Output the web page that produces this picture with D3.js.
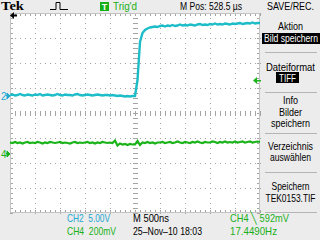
<!DOCTYPE html>
<html><head><meta charset="utf-8">
<script src="https://cdn.jsdelivr.net/npm/d3@7"></script>
<style>
html,body{margin:0;padding:0;background:#ececec;overflow:hidden}
svg{display:block}
</style></head>
<body>
<script>
// ---- data (vertical values in divisions from screen centre, time in divisions) ----
const sampleStep = 0.1;
const ch2Values = [
 0.72,0.74,0.70,0.72,0.76,0.72,0.70,0.74,0.72,0.70,
 0.74,0.72,0.76,0.70,0.72,0.74,0.72,0.70,0.72,0.76,
 0.72,0.70,0.74,0.72,0.72,0.70,0.74,0.76,0.72,0.70,
 0.72,0.74,0.72,0.70,0.72,0.74,0.72,0.70,0.72,0.72,
 0.70,0.72,0.70,0.68,0.70,0.68,0.66,0.68,0.66,0.68,
 0.68,1.32,2.84,3.20,3.32,3.38,3.42,3.44,3.46,3.44,
 3.48,3.50,3.46,3.50,3.48,3.52,3.48,3.50,3.54,3.50,
 3.52,3.50,3.54,3.52,3.50,3.54,3.56,3.52,3.54,3.52,
 3.56,3.54,3.58,3.54,3.56,3.54,3.58,3.56,3.54,3.58,
 3.56,3.58,3.60,3.56,3.58,3.60,3.58,3.62,3.58,3.60,3.60];
const ch4Values = [
 -1.18,-1.20,-1.16,-1.20,-1.18,-1.22,-1.18,-1.16,-1.20,-1.18,
 -1.20,-1.16,-1.18,-1.22,-1.18,-1.20,-1.16,-1.18,-1.20,-1.18,
 -1.16,-1.20,-1.18,-1.20,-1.22,-1.18,-1.16,-1.20,-1.18,-1.20,
 -1.18,-1.16,-1.20,-1.18,-1.22,-1.18,-1.20,-1.16,-1.18,-1.20,
 -1.18,-1.20,-1.10,-1.30,-1.22,-1.26,-1.24,-1.28,-1.24,-1.26,
 -1.26,-1.12,-1.28,-1.18,-1.20,-1.16,-1.20,-1.18,-1.22,-1.18,
 -1.18,-1.16,-1.20,-1.18,-1.16,-1.20,-1.18,-1.14,-1.18,-1.20,
 -1.16,-1.18,-1.20,-1.16,-1.18,-1.14,-1.18,-1.20,-1.16,-1.18,
 -1.18,-1.14,-1.16,-1.20,-1.16,-1.18,-1.14,-1.18,-1.16,-1.18,
 -1.14,-1.18,-1.16,-1.14,-1.18,-1.16,-1.14,-1.18,-1.16,-1.14,-1.16];
const ch2GroundDiv = 0.68;   // "2" marker
const ch4GroundDiv = -1.64;  // "4" marker
const triggerLevelDiv = 1.30; // right-side trigger marker
const menuTitle = "SAVE/REC.";
const menuItems = [
  {lines:["Aktion"], hl:"Bild speichern"},
  {lines:["Dateiformat"], hl:"TIFF"},
  {lines:["Info","Bilder","speichern"]},
  {lines:["Verzeichnis","auswählen"]},
  {lines:["Speichern","TEK0153.TIF"]}
];
const headerTexts = {brand:"Tek", trig:"Trig'd", mpos:"M Pos: 528.5\u00a0\u00b5s"};
const statusRow1 = [{t:"CH2  5.00V", c:"ch2"},{t:"M 500ns", c:"k"},{t:"CH4 \u2572 592mV", c:"ch4"}];
const statusRow2 = [{t:"CH4  200mV", c:"ch4"},{t:"25\u2013Nov\u201310 18:03", c:"k"},{t:"17.4490Hz", c:"ch4"}];

// ---- layout (pixel widths of the narrow instrument font) ----
const textWidth = {
  "Aktion":25,"Bild speichern":54,"Dateiformat":49,"TIFF":17,"Info":15,"Bilder":23,"speichern":39,
  "Verzeichnis":45,"auswählen":41,"Speichern":38,"TEK0153.TIF":50,
  "SAVE/REC.":47,"Trig'd":24
};
textWidth[headerTexts.mpos]=62;
const statusWidth1=[43,36,59], statusWidth2=[49,69,47];

// ---- drawing ----
const W=320,H=240;
const colors = {ch2:"#1cbcc8", ch4:"#1ab41a", k:"#000", grid:"#a4a4a4"};
const textCol = {ch2:"#22a8d0", ch4:"#18b018", k:"#000"};
const font = "'Liberation Sans',Arial,sans-serif";
const svg = d3.select("body").append("svg").attr("width",W).attr("height",H);
svg.append("rect").attr("width",W).attr("height",H).attr("fill","#ececec");

function txt(parent,s,xx,yy,w,col,anchor){
  const t=parent.append("text").attr("x",xx).attr("y",yy).text(s).attr("fill",col)
    .attr("font-family",font).attr("font-size",11).style("white-space","pre");
  if(anchor) t.attr("text-anchor",anchor);
  if(w) t.attr("textLength",w).attr("lengthAdjust","spacingAndGlyphs");
  return t;
}

const x = d3.scaleLinear().domain([0,10]).range([10,260]);
const y = d3.scaleLinear().domain([-4,4]).range([213,13]);

const plot = svg.append("g");
plot.append("rect").attr("x",x(0)).attr("y",y(4)).attr("width",x(10)-x(0)).attr("height",y(-4)-y(4))
  .attr("fill","#fff");

// graticule
const g = plot.append("g").attr("fill",colors.grid).attr("shape-rendering","crispEdges");
const minor = d3.range(0,10.001,0.2), minorY = d3.range(-4,4.001,0.2);
d3.range(1,10).forEach(i=>{
  if(i===5){
    minorY.forEach(v=>g.append("rect").attr("x",x(i)-2).attr("y",Math.round(y(v))).attr("width",5).attr("height",1));
  } else {
    minorY.forEach(v=>g.append("rect").attr("x",x(i)).attr("y",Math.round(y(v))).attr("width",1).attr("height",1));
  }
});
d3.range(-3,4).forEach(j=>{
  if(j===0){
    minor.forEach(t=>g.append("rect").attr("x",Math.round(x(t))).attr("y",y(j)-2).attr("width",1).attr("height",5));
  } else {
    minor.forEach(t=>g.append("rect").attr("x",Math.round(x(t))).attr("y",y(j)).attr("width",1).attr("height",1));
  }
});
// edge ticks
minor.forEach(t=>{
  g.append("rect").attr("x",Math.round(x(t))).attr("y",y(4)).attr("width",1).attr("height",3);
  g.append("rect").attr("x",Math.round(x(t))).attr("y",y(-4)-3).attr("width",1).attr("height",3);
});
minorY.forEach(v=>{
  g.append("rect").attr("x",x(0)).attr("y",Math.round(y(v))).attr("width",3).attr("height",1);
  g.append("rect").attr("x",x(10)-3).attr("y",Math.round(y(v))).attr("width",3).attr("height",1);
});
plot.append("rect").attr("x",x(0)+0.5).attr("y",y(4)+0.5).attr("width",x(10)-x(0)-1).attr("height",y(-4)-y(4)-1)
  .attr("fill","none").attr("stroke","#c4c4c4");

// traces
const line = d3.line().x((d,i)=>x(i*sampleStep)).y(d=>y(d));
plot.append("path").datum(ch4Values).attr("d",line).attr("fill","none")
  .attr("stroke",colors.ch4).attr("stroke-width",2.2);
plot.append("path").datum(ch2Values).attr("d",line).attr("fill","none")
  .attr("stroke",colors.ch2).attr("stroke-width",2.4);

// channel markers
function marker(label,div,col){
  const yy=y(div);
  svg.append("text").attr("x",1).attr("y",yy+4).text(label).attr("fill",col)
    .attr("font-family",font).attr("font-size",10);
  svg.append("path").attr("d",`M6,${yy-0.5}H8M7,${yy-3}L10,${yy}L7,${yy+3}Z`).attr("fill",col).attr("stroke",col).attr("stroke-width",1);
}
marker("2",ch2GroundDiv,textCol.ch2);
marker("4",ch4GroundDiv,textCol.ch4);
// trigger level marker (right)
{const yy=y(triggerLevelDiv);
 svg.append("path").attr("d",`M253,${yy}L257,${yy-3.5}L257,${yy+3.5}Z`).attr("fill",colors.ch4);
 svg.append("rect").attr("x",256).attr("y",yy-0.5).attr("width",5).attr("height",1.5).attr("fill",colors.ch4);}
// trigger position arrow (top-left, off screen)
svg.append("path").attr("d","M10,15.5L14,12L14,19Z").attr("fill","#000");
svg.append("rect").attr("x",13).attr("y",14.5).attr("width",4).attr("height",2).attr("fill","#000");

// header
svg.append("text").attr("x",1).attr("y",10).text(headerTexts.brand)
  .attr("font-family","'Liberation Serif','DejaVu Serif',serif").attr("font-weight","bold").attr("font-size",13).attr("fill","#000")
  .attr("textLength",23).attr("lengthAdjust","spacingAndGlyphs");
svg.append("path").attr("d","M50,9.5H54M54,9.5H56V2.5H60V9.5H62M62,9.5H68").attr("fill","none").attr("stroke","#000").attr("stroke-width",1);
svg.append("rect").attr("x",100).attr("y",2).attr("width",9).attr("height",9).attr("fill","#16b016");
svg.append("text").attr("x",104.5).attr("y",10).attr("text-anchor","middle").text("T").attr("fill","#fff")
  .attr("font-family",font).attr("font-size",9).attr("font-weight","bold");
txt(svg,headerTexts.trig,113,10,textWidth[headerTexts.trig],textCol.ch4);
txt(svg,headerTexts.mpos,180,10,textWidth[headerTexts.mpos],"#000");
txt(svg,menuTitle,267,10,textWidth[menuTitle],"#000");

// menu
const menu = svg.append("g");
const menuLayout = [
  {baselines:[30], hlBox:[262,33,58,11], hlBase:42},
  {baselines:[71], hlBox:[276,72,23,11], hlBase:82},
  {baselines:[104,116,127]},
  {baselines:[150,161]},
  {baselines:[190,202]}
];
const sepY=[52,92,133,172,212];
menuItems.forEach((m,i)=>{
  const L=menuLayout[i];
  m.lines.forEach((s,k)=>txt(menu,s,290.5-textWidth[s]/2,L.baselines[k],textWidth[s],"#000"));
  if(m.hl){
    const b=L.hlBox;
    menu.append("rect").attr("x",b[0]).attr("y",b[1]).attr("width",b[2]).attr("height",b[3]).attr("fill","#000");
    txt(menu,m.hl,b[0]+b[2]/2-textWidth[m.hl]/2,L.hlBase,textWidth[m.hl],"#fff");
  }
});
sepY.forEach(s=>svg.append("rect").attr("x",265).attr("y",s).attr("width",52).attr("height",1).attr("fill","#b4b4b4"));

// status rows
const colX=[67,133,230];
statusRow1.forEach((d,i)=>txt(svg,d.t,colX[i],222,statusWidth1[i],textCol[d.c]));
statusRow2.forEach((d,i)=>txt(svg,d.t,colX[i],235,statusWidth2[i],textCol[d.c]));
</script>
</body></html>
